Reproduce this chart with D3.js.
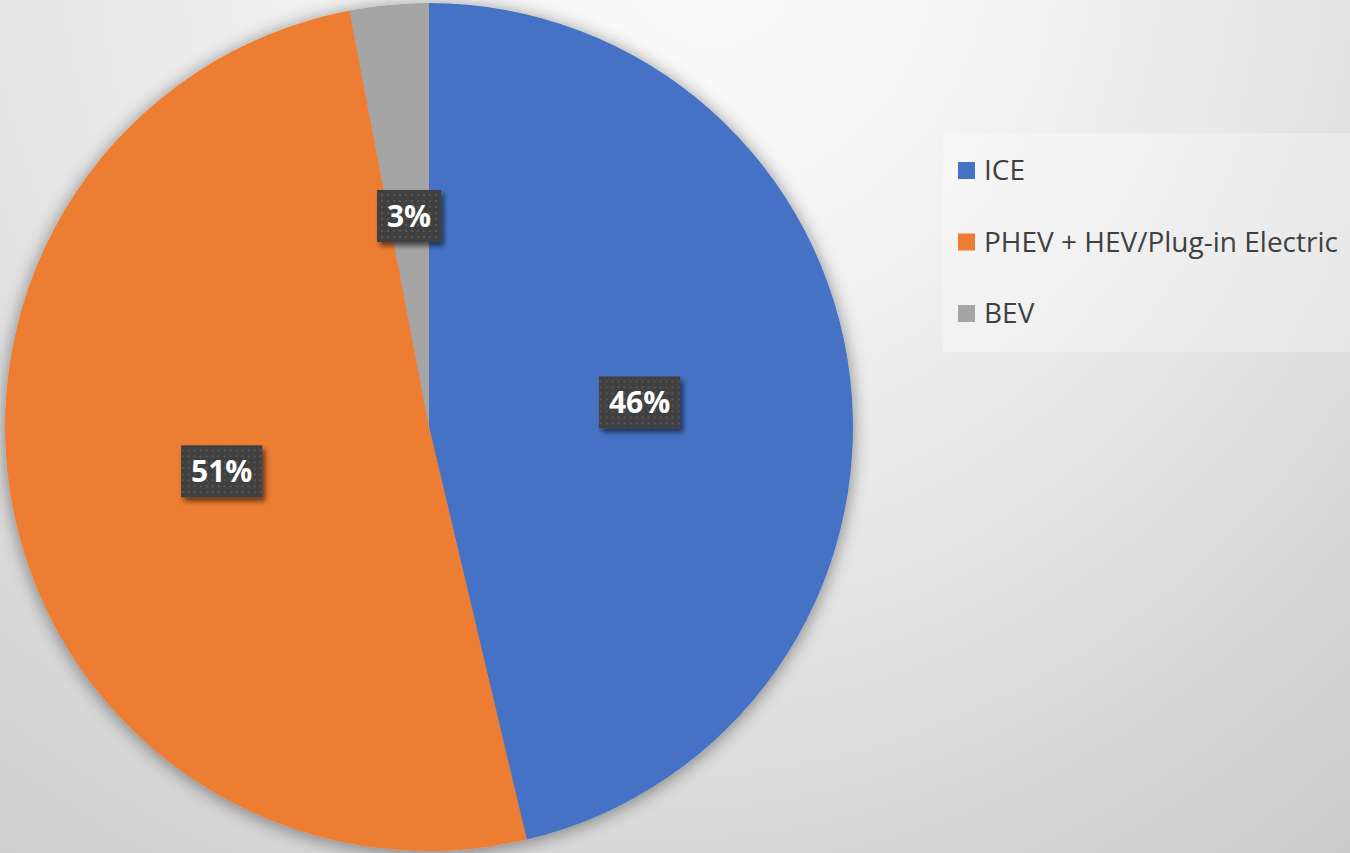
<!DOCTYPE html>
<html>
<head>
<meta charset="utf-8">
<script src="https://cdn.jsdelivr.net/npm/d3@7"></script>
<style>
html,body{margin:0;padding:0;overflow:hidden;}
svg{display:block;}
</style>
</head>
<body>
<svg id="chart" width="1350" height="853"></svg>
<script>
const categories = ["ICE", "PHEV + HEV/Plug-in Electric", "BEV"];
const values = [46.3, 50.7, 3.0];
const colors = ["#4472C4", "#ED7D31", "#A5A5A5"];

const W = 1350, H = 853;
const cx = 429, cy = 427, R = 424;

const svg = d3.select("#chart");
const defs = svg.append("defs");

// background gradient
const bg = defs.append("radialGradient").attr("id", "bg")
  .attr("gradientUnits", "userSpaceOnUse")
  .attr("cx", 600).attr("cy", -60).attr("r", 1250)
  .attr("fx", 720).attr("fy", -40);
[[0, "#fbfbfb"], [0.22, "#f5f5f5"], [0.45, "#e9e9e9"], [0.68, "#dbdbdb"], [0.85, "#d0d0d0"], [1, "#c8c8c8"]]
  .forEach(([o, c]) => bg.append("stop").attr("offset", o).attr("stop-color", c));

// pie shadow
const sh = defs.append("filter").attr("id", "pieShadow")
  .attr("x", "-10%").attr("y", "-10%").attr("width", "120%").attr("height", "120%");
sh.append("feGaussianBlur").attr("in", "SourceAlpha").attr("stdDeviation", 9).attr("result", "b");
sh.append("feOffset").attr("in", "b").attr("dx", 0).attr("dy", 2).attr("result", "o");
sh.append("feComponentTransfer").attr("in", "o").attr("result", "s")
  .append("feFuncA").attr("type", "linear").attr("slope", 0.45);
const m = sh.append("feMerge");
m.append("feMergeNode").attr("in", "s");
m.append("feMergeNode").attr("in", "SourceGraphic");

// label shadow
const ls = defs.append("filter").attr("id", "lblShadow")
  .attr("x", "-20%").attr("y", "-20%").attr("width", "150%").attr("height", "150%");
ls.append("feGaussianBlur").attr("in", "SourceAlpha").attr("stdDeviation", 2.5).attr("result", "b");
ls.append("feOffset").attr("in", "b").attr("dx", 3).attr("dy", 4).attr("result", "o");
ls.append("feComponentTransfer").attr("in", "o").attr("result", "s")
  .append("feFuncA").attr("type", "linear").attr("slope", 0.55);
const m2 = ls.append("feMerge");
m2.append("feMergeNode").attr("in", "s");
m2.append("feMergeNode").attr("in", "SourceGraphic");

// dotted pattern
const pat = defs.append("pattern").attr("id", "dots")
  .attr("patternUnits", "userSpaceOnUse").attr("width", 6).attr("height", 6);
pat.append("rect").attr("width", 6).attr("height", 6).attr("fill", "#404040");
pat.append("rect").attr("x", 2).attr("y", 2).attr("width", 2).attr("height", 2).attr("fill", "#585858");

svg.append("rect").attr("width", W).attr("height", H).attr("fill", "url(#bg)");

const pie = d3.pie().sort(null).value(d => d)(values);
const arc = d3.arc().innerRadius(0).outerRadius(R);
const labelArc = d3.arc().innerRadius(R * 0.5).outerRadius(R * 0.5);

const g = svg.append("g").attr("transform", `translate(${cx},${cy})`);
g.append("g").attr("filter", "url(#pieShadow)")
  .selectAll("path").data(pie).join("path")
  .attr("d", arc).attr("fill", (d, i) => colors[i]);

const total = d3.sum(values);
const lg = g.append("g").selectAll("g").data(pie).join("g")
  .attr("transform", d => `translate(${labelArc.centroid(d)})`);
lg.each(function(d) {
  const sel = d3.select(this);
  const txt = Math.round(d.value / total * 100) + "%";
  const rect = sel.append("rect").attr("fill", "url(#dots)").attr("filter", "url(#lblShadow)");
  const t = sel.append("text").text(txt)
    .attr("text-anchor", "middle").attr("dy", "0.36em")
    .attr("font-family", "'Open Sans', sans-serif").attr("font-weight", 700)
    .attr("font-size", 30).attr("fill", "#ffffff");
  const w = t.node().getComputedTextLength() + 20;
  rect.attr("x", -w / 2).attr("y", -26).attr("width", w).attr("height", 52);
});

// legend
const leg = svg.append("g");
leg.append("rect").attr("x", 943).attr("y", 133).attr("width", 407).attr("height", 219)
  .attr("fill", "#ffffff").attr("fill-opacity", 0.3);
const ly = d3.scalePoint().domain(categories).range([180, 323]);
const items = leg.selectAll("g").data(categories).join("g")
  .attr("transform", d => `translate(958,${ly(d)})`);
items.append("rect").attr("x", 0).attr("y", -18).attr("width", 17).attr("height", 17)
  .attr("fill", (d, i) => colors[i]);
items.append("text").attr("x", 26).attr("y", 0).text(d => d)
  .attr("font-family", "'Open Sans', sans-serif").attr("font-size", 28).attr("fill", "#404040");
</script>
</body>
</html>
